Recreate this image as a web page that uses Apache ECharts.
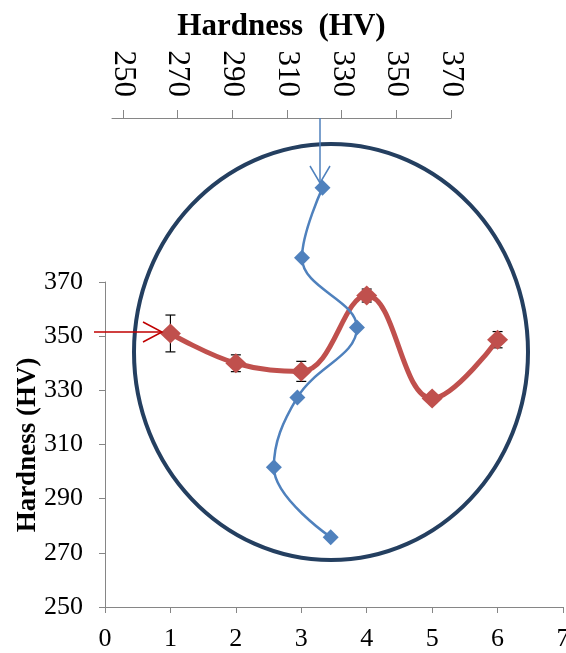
<!DOCTYPE html>
<html>
<head>
<meta charset="utf-8">
<script src="https://cdn.jsdelivr.net/npm/echarts@6/dist/echarts.min.js"></script>
<style>
  html, body { margin: 0; padding: 0; background: #fff; }
  #chart { width: 566px; height: 653px; }
</style>
</head>
<body>
<div id="chart"></div>
<script>
// red series: position vs hardness (bottom / left axes)
const redX = [1, 2, 3, 4, 5, 6];
const redY = [351, 340, 337, 365, 327, 348.7];
const redErr = [6.8, 3.1, 3.7, 2.4, 1, 3];

// blue series: hardness (top axis) vs position (hidden inverse axis)
const blueHardness = [323, 315.5, 335.6, 313.8, 305.2, 326];
const bluePos = [1, 2, 3, 4, 5, 6];

const topTicks = [250, 270, 290, 310, 330, 350, 370];

const font = 'Liberation Serif';
const axisGray = '#868686';

const chart = echarts.init(document.getElementById('chart'));

const redData = redX.map((x, i) => [x, redY[i]]);
const errData = redX.map((x, i) => [x, redY[i] - redErr[i], redY[i] + redErr[i]]);
const blueData = blueHardness.map((h, i) => [h, bluePos[i]]);

chart.setOption({
    animation: false,
    grid: [
        { left: 105, right: 3, top: 282, bottom: 46, outerBoundsMode: 'none' },
        { left: 112, width: 339, top: 118, bottom: 46, outerBoundsMode: 'none' }
    ],
    xAxis: [
        {
            gridIndex: 0, type: 'value', min: 0, max: 7, interval: 1,
            axisLine: { lineStyle: { color: axisGray, width: 1 } },
            axisTick: { length: 6, lineStyle: { color: axisGray } },
            axisLabel: { fontFamily: font, fontSize: 26, color: '#000', margin: 19 },
            splitLine: { show: false }
        },
        {
            gridIndex: 1, type: 'value', position: 'top', min: 246, max: 370,
            axisLine: { lineStyle: { color: axisGray, width: 1 } },
            axisTick: { length: 8, customValues: topTicks, lineStyle: { color: axisGray } },
            axisLabel: {
                customValues: topTicks, rotate: -90,
                fontFamily: font, fontSize: 31, color: '#000', margin: 21
            },
            splitLine: { show: false },
            name: 'Hardness  (HV)', nameLocation: 'middle', nameGap: 68,
            nameTextStyle: { fontFamily: font, fontSize: 31, fontWeight: 'bold', color: '#000' }
        }
    ],
    yAxis: [
        {
            gridIndex: 0, type: 'value', min: 250, max: 370, interval: 20,
            axisLine: { show: true, lineStyle: { color: axisGray, width: 1 } },
            axisTick: { show: true, length: 6, lineStyle: { color: axisGray } },
            axisLabel: { fontFamily: font, fontSize: 26, color: '#000', margin: 22 },
            splitLine: { show: false }
        },
        {
            gridIndex: 1, type: 'value', min: 0, max: 7, inverse: true, show: false
        }
    ],
    graphic: [
        {
            type: 'text', x: 28, y: 445, rotation: Math.PI / 2,
            style: {
                text: 'Hardness (HV)', fontFamily: font, fontSize: 27, fontWeight: 'bold',
                fill: '#000', align: 'center', verticalAlign: 'middle'
            }
        },
        {
            type: 'ellipse', shape: { cx: 331, cy: 352, rx: 197, ry: 208 },
            style: { fill: 'none', stroke: '#243F60', lineWidth: 4 }, z: 10
        },
        // red arrow
        {
            type: 'polyline', shape: { points: [[94, 332], [162, 332]] },
            style: { stroke: '#C00000', lineWidth: 1.5, fill: 'none' }, z: 11
        },
        {
            type: 'polyline', shape: { points: [[143, 322], [162, 332], [143, 342]] },
            style: { stroke: '#C00000', lineWidth: 1.5, fill: 'none' }, z: 11
        },
        // blue arrow
        {
            type: 'polyline', shape: { points: [[320, 118], [320, 183]] },
            style: { stroke: '#4F81BD', lineWidth: 1.5, fill: 'none' }, z: 11
        },
        {
            type: 'polyline', shape: { points: [[310, 166], [320, 183], [330, 166]] },
            style: { stroke: '#4F81BD', lineWidth: 1.5, fill: 'none' }, z: 11
        }
    ],
    series: [
        {
            type: 'custom', xAxisIndex: 0, yAxisIndex: 0, data: errData, z: 3,
            renderItem: function (params, api) {
                const top = api.coord([api.value(0), api.value(2)]);
                const bot = api.coord([api.value(0), api.value(1)]);
                const w = 5;
                const st = { stroke: '#000', lineWidth: 1.2 };
                return {
                    type: 'group',
                    children: [
                        { type: 'line', shape: { x1: top[0], y1: top[1], x2: bot[0], y2: bot[1] }, style: st },
                        { type: 'line', shape: { x1: top[0] - w, y1: top[1], x2: top[0] + w, y2: top[1] }, style: st },
                        { type: 'line', shape: { x1: bot[0] - w, y1: bot[1], x2: bot[0] + w, y2: bot[1] }, style: st }
                    ]
                };
            }
        },
        {
            type: 'line', xAxisIndex: 0, yAxisIndex: 0, data: redData, smooth: 0.4,
            symbol: 'diamond', symbolSize: [21, 20],
            lineStyle: { color: '#C0504D', width: 5 },
            itemStyle: { color: '#C0504D' }, z: 4
        },
        {
            type: 'line', xAxisIndex: 1, yAxisIndex: 1, data: blueData, smooth: 0.4,
            symbol: 'diamond', symbolSize: 16,
            lineStyle: { color: '#4F81BD', width: 2.5 },
            itemStyle: { color: '#4F81BD' }, z: 5
        }
    ]
});
</script>
</body>
</html>
